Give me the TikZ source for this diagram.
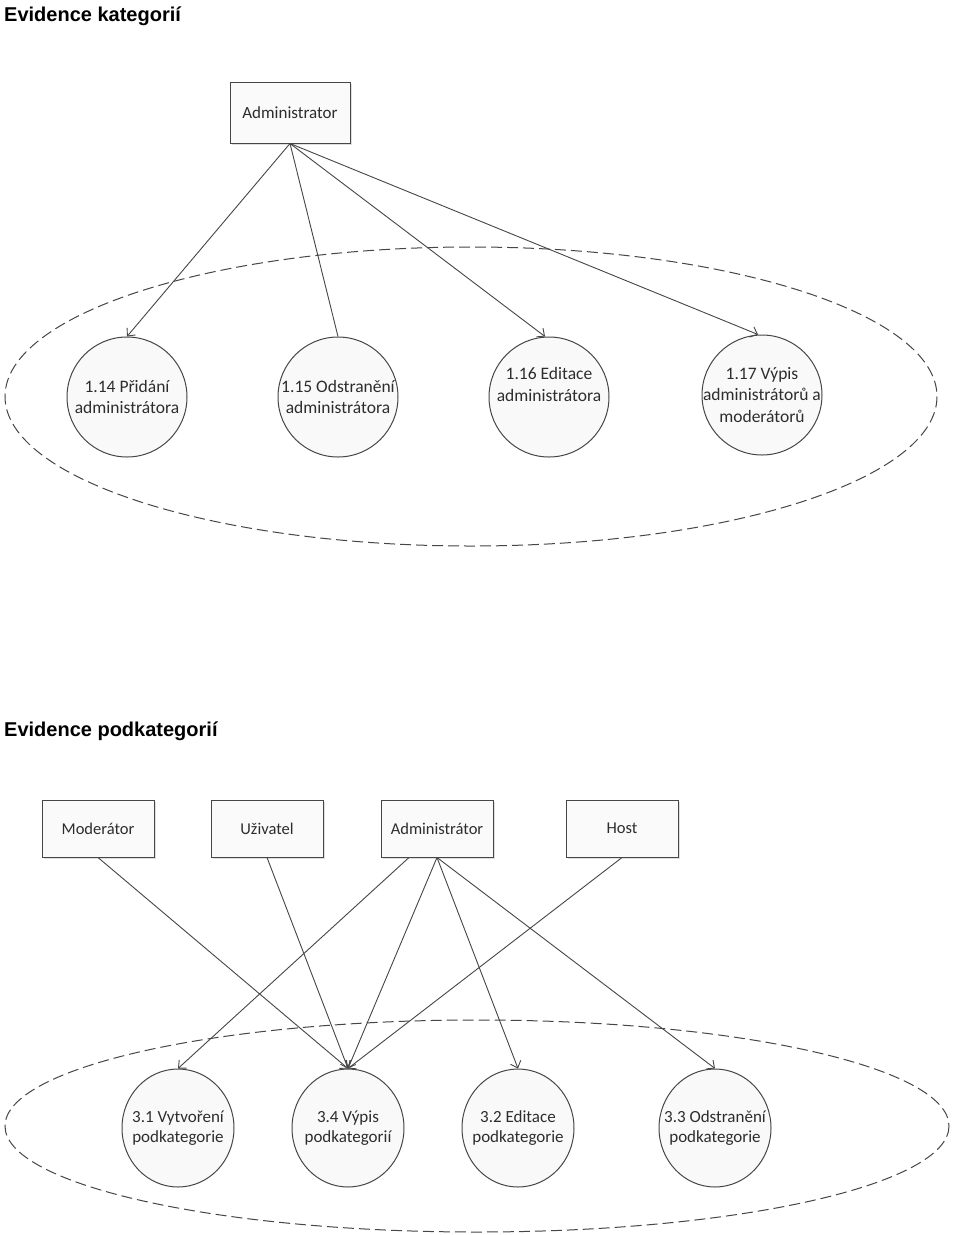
\documentclass[tikz,border=0pt]{standalone}
\usepackage{fontspec}
\setmainfont{Carlito}
\newfontfamily\titlefont{Liberation Sans}
\usetikzlibrary{arrows.meta,shapes.geometric,shadows}
\definecolor{linec}{RGB}{70,70,70}
\definecolor{txtc}{RGB}{45,45,45}
\begin{document}
\begin{tikzpicture}[x=1pt,y=-1pt,
  actor/.style={draw=linec, line width=1pt, fill=gray!4, minimum width=120pt, minimum height=61pt,
    inner sep=0pt, font=\fontsize{17}{20}\selectfont, text=txtc,
    drop shadow={shadow xshift=1.5pt, shadow yshift=-1.5pt, opacity=0.25}},
  actorb/.style={actor, minimum width=112pt, minimum height=57pt, font=\fontsize{16.5}{20}\selectfont},
  uc/.style={draw=linec, line width=1pt, fill=gray!5, circle, minimum size=120pt, inner sep=-40pt,
    align=center, font=\fontsize{17.5}{21.5}\selectfont, text=txtc},
  ucb/.style={draw=linec, line width=1pt, fill=gray!5, ellipse, minimum width=112pt, minimum height=118pt, inner sep=-40pt,
    align=center, font=\fontsize{17}{20.5}\selectfont, text=txtc},
  bound/.style={draw=linec, line width=1pt, dash pattern=on 11pt off 5pt},
  link/.style={draw=linec, line width=0.9pt},
  arr/.style={link, -{Straight Barb[length=6pt,width=11pt]}},
  title/.style={anchor=base west, inner sep=0pt, font=\titlefont\bfseries\fontsize{20}{24}\selectfont}
]
\useasboundingbox (0,0) rectangle (960,1235);
\fill[white] (0,0) rectangle (960,1235);

% ---- Evidence kategorií ----
\node[title] (t1) at (4,21) {Evidence kategorií};
\draw[bound] (471,396.5) ellipse [x radius=466, y radius=149.5];
\node[actor] (adm) at (290,112.5) {Administrator};
\node[uc] (c114) at (127,397) {1.14 Přidání\\administrátora};
\node[uc] (c115) at (338,397) {1.15 Odstranění\\administrátora};
\node[uc] (c116) at (549,397) {1.16 Editace\\administrátora\\[4pt]};
\node[uc] (c117) at (762,395) {1.17 Výpis\\administrátorů a\\moderátorů};

\draw[arr] (adm.south) -- (c114.north);
\draw[link] (adm.south) -- (c115.north);
\draw[arr] (adm.south) -- ([xshift=-4pt]c116.north);
\draw[arr] (adm.south) -- ([xshift=-4pt]c117.north);

% ---- Evidence podkategorií ----
\node[title] (t2) at (4,736) {Evidence podkategorií};
\draw[bound] (477,1126) ellipse [x radius=472, y radius=106];
\node[actorb] (mod) at (98,828.5) {Moderátor};
\node[actorb] (uzi) at (267,828.5) {Uživatel};
\node[actorb] (adm2) at (437,828.5) {Administrátor};
\node[actorb] (host) at (622,828.5) {Host};

\node[ucb] (c31) at (178,1128) {3.1 Vytvoření\\podkategorie};
\node[ucb] (c34) at (348,1128) {3.4 Výpis\\podkategorií};
\node[ucb] (c32) at (518,1128) {3.2 Editace\\podkategorie};
\node[ucb] (c33) at (715,1128) {3.3 Odstranění\\podkategorie};

\coordinate (a2l) at ([xshift=-28pt]adm2.south);
\draw[arr] (mod.south) -- (c34.north);
\draw[arr] (uzi.south) -- (c34.north);
\draw[arr] (a2l) -- (c31.north);
\draw[arr] (adm2.south) -- (c34.north);
\draw[arr] (adm2.south) -- (c32.north);
\draw[arr] (adm2.south) -- (c33.north);
\draw[arr] (host.south) -- (c34.north);
\end{tikzpicture}
\end{document}
